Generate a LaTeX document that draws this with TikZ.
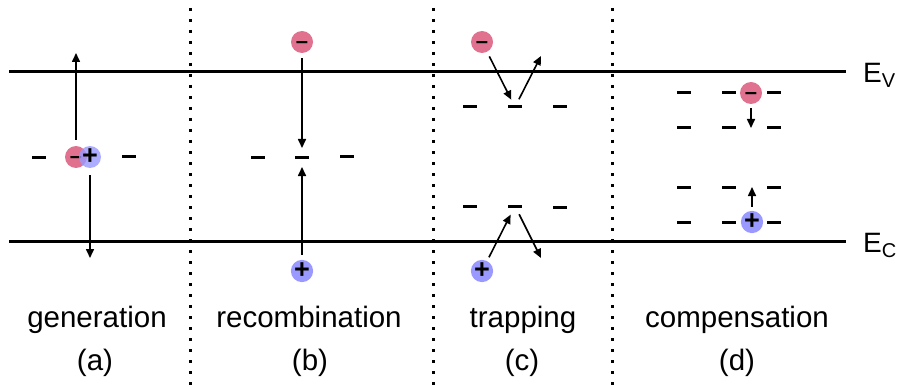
\documentclass[tikz,border=0pt]{standalone}
\usepackage{fontspec}
\setmainfont{Liberation Sans}
\usetikzlibrary{arrows.meta}
\definecolor{ered}{HTML}{E0728F}
\definecolor{hblue}{HTML}{9999FF}
\tikzset{
  band/.style={line width=3pt},
  sepline/.style={line width=3pt, dash pattern=on 3pt off 8pt},
  lvl/.style={fill=black, minimum width=14pt, minimum height=3pt, inner sep=0pt, outer sep=0pt},
  elec/.style={circle, fill=ered, minimum size=22pt, inner sep=0pt, text height=13pt, text depth=-1pt, font=\fontsize{22}{22}\selectfont\bfseries},
  hole/.style={circle, fill=hblue, minimum size=22pt, inner sep=0pt, font=\fontsize{27}{27}\selectfont\bfseries},
  arr/.style={-{Triangle[length=9pt,width=8pt]}, line width=1.6pt},
  lab/.style={font=\fontsize{29.5}{29.5}\selectfont, anchor=base},
  elab/.style={font=\fontsize{28}{28}\selectfont, anchor=base west, inner sep=0pt}
}
\begin{document}
\begin{tikzpicture}[x=1pt,y=-1pt]
\useasboundingbox (0,0) rectangle (899,385);
% bands
\coordinate (v0) at (9,72); \coordinate (v1) at (846,72);
\coordinate (c0) at (9,241); \coordinate (c1) at (846,241);
\draw[band] (v0) -- (v1);
\draw[band] (c0) -- (c1);
\node[elab] (ev) at (863,83) {E\raisebox{-5pt}{\fontsize{20}{20}\selectfont V}};
\node[elab] (ec) at (863,252) {E\raisebox{-5pt}{\fontsize{20}{20}\selectfont C}};
% separators
\foreach \x/\n in {190/s1,433/s2,612/s3}{
  \coordinate (\n t) at (\x,8); \coordinate (\n b) at (\x,385);
  \draw[sepline] (\n t) -- (\n b);
}
% (a) generation
\node[lvl] (la1) at (39,157) {};
\node[lvl] (la3) at (129,156) {};
\node[elec] (ra) at (76,157) {–};
\node[hole, opacity=0.8] (ba) at (90,157) {};
\node[font=\fontsize{27}{27}\selectfont\bfseries, inner sep=0pt] (bap) at (90,157) {+};
\coordinate (a1) at (76,53);
\coordinate (a2) at (90,258);
\draw[arr, shorten <=6pt] (ra.north) -- (a1);
\draw[arr, shorten <=7pt] (ba.south) -- (a2);
% (b) recombination
\node[lvl] (lb1) at (258,157) {};
\node[lvl] (lb2) at (302,157) {};
\node[lvl] (lb3) at (347,156) {};
\node[elec] (rb) at (302,42) {–};
\node[hole] (bb) at (302,271) {+};
\draw[arr, shorten <=5pt, shorten >=7.5pt] (rb) -- (lb2);
\draw[arr, shorten <=5pt, shorten >=8.5pt] (bb) -- (lb2);
% (c) trapping
\node[lvl] (lc1) at (470,107) {};
\node[lvl] (lc2) at (515,107) {};
\node[lvl] (lc3) at (560,107) {};
\node[lvl] (lc4) at (470,206) {};
\node[lvl] (lc5) at (515,206) {};
\node[lvl] (lc6) at (560,207) {};
\node[elec] (rc) at (482,42) {–};
\node[hole] (bc) at (482,271) {+};
\coordinate (cu) at (541,56);
\coordinate (cd) at (541,258);
\draw[arr, shorten <=5pt, shorten >=6.5pt] (rc) -- (lc2);
\draw[arr, shorten <=7pt] (lc2) -- (cu);
\draw[arr, shorten <=4pt, shorten >=8pt] (bc) -- (lc5);
\draw[arr, shorten <=7.5pt] (lc5) -- (cd);
% (d) compensation
\foreach \y/\r in {93/1,128/2,187/3,222/4}{
  \foreach \x/\c in {684/1,729/2,774/3}{
    \node[lvl] (ld\r\c) at (\x,\y) {};
  }
}
\node[elec] (rd) at (751,93) {–};
\node[hole] (bd) at (752,222) {+};
\coordinate (dd) at (751,128);
\coordinate (du) at (752,187);
\draw[arr, shorten <=4pt] (rd) -- (dd);
\draw[arr, shorten <=4pt] (bd) -- (du);
% labels
\node[lab] (ta) at (97,327) {generation};
\node[lab] (pa) at (95,370) {(a)};
\node[lab] (tb) at (309,327) {recombination};
\node[lab] (pb) at (310,370) {(b)};
\node[lab] (tc) at (523,327) {trapping};
\node[lab] (pc) at (522,370) {(c)};
\node[lab] (td) at (737,327) {compensation};
\node[lab] (pd) at (737,370) {(d)};
\end{tikzpicture}
\end{document}
